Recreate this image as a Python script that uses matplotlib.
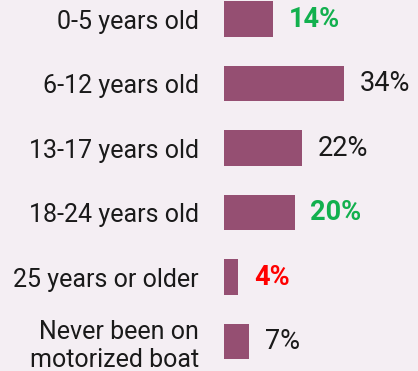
import matplotlib.pyplot as plt

categories = ['0-5 years old', '6-12 years old', '13-17 years old',
              '18-24 years old', '25 years or older', 'Never been on\nmotorized boat']
values = [14, 34, 22, 20, 4, 7]
label_colors = ['#12B04E', '#1a1a1a', '#1a1a1a', '#12B04E', '#FF0000', '#1a1a1a']
label_weights = ['bold', 'normal', 'normal', 'bold', 'bold', 'normal']

bg = '#F4EEF3'
bar_color = '#954F72'

plt.rcParams['font.family'] = ['Roboto', 'DejaVu Sans']

fig = plt.figure(figsize=(4.18, 3.71), dpi=100, facecolor=bg)
ax = fig.add_axes([224 / 418, 0, 194 / 418, 1])
ax.set_facecolor(bg)

y = list(range(len(categories)))
ax.barh(y, values, height=0.55, color=bar_color)

ax.set_xlim(0, 55)
ax.set_ylim(5.457, -0.295)

for yi, v, c, w in zip(y, values, label_colors, label_weights):
    ax.text(v + 4.5, yi, f'{v}%', va='center', ha='left', color=c,
            fontsize=19.5, fontweight=w)

ax.set_yticks(y)
ax.set_yticklabels(categories, fontsize=18, color='#1a1a1a', linespacing=1.2)
ax.tick_params(axis='y', length=0, pad=18)
ax.set_xticks([])
for s in ax.spines.values():
    s.set_visible(False)

fig.savefig('out.png', dpi=100, facecolor=bg)
